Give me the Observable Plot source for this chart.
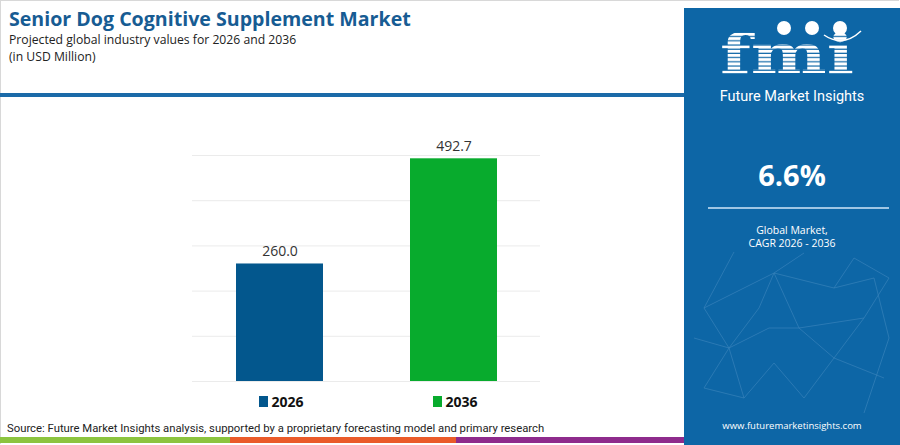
<!DOCTYPE html>
<html>
<head>
<meta charset="utf-8">
<script src="https://cdn.jsdelivr.net/npm/d3@7"></script>
<script src="https://cdn.jsdelivr.net/npm/@observablehq/plot@0.6"></script>
<style>
  html, body { margin: 0; padding: 0; background: #fff; }
  #page { position: relative; width: 900px; height: 445px; overflow: hidden; font-family: "Open Sans", sans-serif; background:#fff; }
  #frame { position:absolute; left:0; top:0; width:898px; height:443px; border:1px solid #d8d8d8; border-right:none; border-bottom:none; }
  #title { position:absolute; left:9px; top:6px; font-size:19.6px; line-height:26px; font-weight:700; color:#175c93; white-space:nowrap; }
  #sub1 { position:absolute; left:9px; top:32px; font-size:12.2px; line-height:16px; color:#222; white-space:nowrap; }
  #sub2 { position:absolute; left:9px; top:49px; font-size:12.2px; line-height:16px; color:#222; white-space:nowrap; }
  #divider { position:absolute; left:0; top:93px; width:690px; height:4px; background:#1b6aa8; }
  #chart { position:absolute; left:0; top:100px; }
  #legend { position:absolute; top:392px; left:0; width:685px; font-size:14px; font-weight:700; color:#111; }
  .lg { position:absolute; display:flex; align-items:center; gap:4px; }
  .sw { width:9px; height:11px; display:inline-block; }
  #source { position:absolute; left:7px; top:421px; font-size:11.3px; line-height:16px; font-family: Roboto, sans-serif; color:#222; white-space:nowrap; }
  #strip { position:absolute; left:0; top:437px; height:6px; width:690px; display:flex; }
  #strip div { height:100%; }
  #panel { position:absolute; left:684px; top:8px; width:216px; height:437px; background:#0d66a6; color:#fff; text-align:center; }
  #fmitxt { position:absolute; left:0; width:216px; top:80px; font-size:14.5px; line-height:18px; font-family: Roboto, sans-serif; }
  #cagr { position:absolute; left:0; width:216px; top:148px; font-size:29px; line-height:38px; font-weight:700; }
  #pline { position:absolute; left:24px; width:181px; top:199px; height:2px; background:#9fc6e4; }
  #glob { position:absolute; left:0; width:216px; top:216px; font-size:10.5px; line-height:13px; }
  #www { position:absolute; left:0; width:216px; top:412px; font-size:9.5px; line-height:12px; }
  #net { position:absolute; left:0; top:240px; }
  #logo { position:absolute; left:30px; top:4px; }
</style>
</head>
<body>
<div id="page">
  <div id="frame"></div>
  <div id="title">Senior Dog Cognitive Supplement Market</div>
  <div id="sub1">Projected global industry values for 2026 and 2036</div>
  <div id="sub2">(in USD Million)</div>
  <div id="divider"></div>
  <div id="chart"></div>
  <div id="legend"></div>
  <div id="source">Source: Future Market Insights analysis, supported by a proprietary forecasting model and primary research</div>
  <div id="strip">
    <div style="width:230px;background:#8cc43f"></div>
    <div style="width:226px;background:#ea5b2a"></div>
    <div style="width:234px;background:#8e2b8c"></div>
  </div>
  <div id="panel">
    <svg id="logo" width="160" height="76" viewBox="0 0 160 76">
      <defs>
        <pattern id="stripes" width="4" height="4.2" patternUnits="userSpaceOnUse">
          <rect width="4" height="3" fill="#fff"/>
        </pattern>
      </defs>
      <text x="6" y="61" font-family="DejaVu Serif, serif" font-weight="700" font-size="54" fill="url(#stripes)" textLength="134" lengthAdjust="spacingAndGlyphs">fmi</text>
      <circle cx="70" cy="16" r="7" fill="#fff"/>
      <circle cx="98" cy="16" r="7" fill="#fff"/>
      <circle cx="126" cy="16" r="7" fill="#fff"/>
      <path d="M110 23 Q129 36 147 19" stroke="#fff" stroke-width="1.5" fill="none"/>
    </svg>
    <div id="fmitxt">Future Market Insights</div>
    <div id="cagr">6.6%</div>
    <div id="pline"></div>
    <div id="glob">Global Market,<br>CAGR 2026 - 2036</div>
    <svg id="net" width="216" height="170">
      <g stroke="#5a9acb" stroke-width="0.7" fill="none" opacity="0.55">
        <path d="M50 4 L20 60 L45 100 L60 150 L90 115 L120 150 L150 110 L180 70 L205 30"/>
        <path d="M20 60 L90 25 L150 40 L190 30 L205 90 L180 165"/>
        <path d="M90 25 L115 80 L150 110 L200 130"/>
        <path d="M45 100 L85 80 L115 80 L180 70"/>
        <path d="M120 5 L90 25 L75 60 L45 100"/>
        <path d="M10 90 L45 100 L20 140 L60 150"/>
        <path d="M150 40 L170 10 L205 30"/>
      </g>
    </svg>
    <div id="www">www.futuremarketinsights.com</div>
  </div>
</div>
<script>
const years = ["2026", "2036"];
const values = [260.0, 492.7];
const colors = ["#03578d", "#08ab2d"];
const yTicks = [0, 100, 200, 300, 400, 500];

const data = years.map((y, i) => ({year: y, value: values[i]}));

const chart = Plot.plot({
  width: 685,
  height: 290,
  marginLeft: 192,
  marginRight: 145,
  marginTop: 55,
  marginBottom: 9,
  x: {domain: years, paddingInner: 0.5, paddingOuter: 0.25, axis: null},
  y: {domain: [0, 500], axis: null},
  color: {domain: years, range: colors},
  style: {fontFamily: "Open Sans, sans-serif", background: "transparent"},
  marks: [
    Plot.ruleY(yTicks, {stroke: "#ebebeb", strokeWidth: 1}),
    Plot.barY(data, {x: "year", y: "value", fill: "year"}),
    Plot.text(data, {x: "year", y: "value", text: d => d.value.toFixed(1), dy: -12, fontSize: 14, fill: "#333"})
  ]
});
document.getElementById("chart").appendChild(chart);

const legend = document.getElementById("legend");
const xs = chart.scale("x");
years.forEach((y, i) => {
  const el = document.createElement("div");
  el.className = "lg";
  el.style.left = (xs.apply(y) + xs.bandwidth / 2 - 21) + "px";
  el.innerHTML = `<span class="sw" style="background:${colors[i]}"></span><span>${y}</span>`;
  legend.appendChild(el);
});
</script>
</body>
</html>
